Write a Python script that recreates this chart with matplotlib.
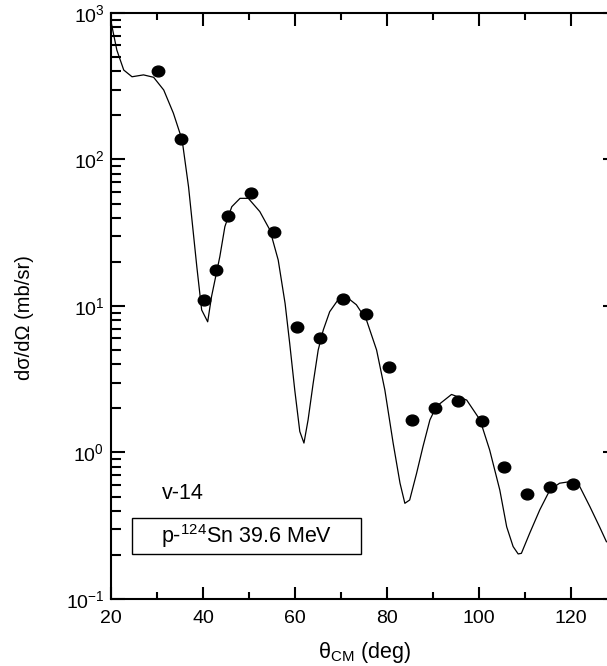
import numpy as np
import matplotlib
matplotlib.use("Agg")
import matplotlib.pyplot as plt
from matplotlib.patches import Rectangle
from matplotlib.markers import MarkerStyle
from matplotlib.transforms import Affine2D
from matplotlib.ticker import MultipleLocator, LogLocator, NullFormatter

plt.rcParams['font.family'] = ['Liberation Sans', 'DejaVu Sans']
plt.rcParams['mathtext.fontset'] = 'custom'
plt.rcParams['mathtext.rm'] = 'Liberation Sans'
plt.rcParams['mathtext.it'] = 'Liberation Sans:italic'
plt.rcParams['mathtext.bf'] = 'Liberation Sans:bold'

# measured cross sections (points)
theta_exp = [30.2, 35.1, 40.1, 42.8, 45.4, 50.3, 55.3, 60.4, 65.4, 70.4,
             75.5, 80.5, 85.5, 90.4, 95.5, 100.6, 105.5, 110.4, 115.4, 120.4]
xs_exp = [402, 138, 11.0, 17.6, 41.1, 59.3, 32.1, 7.22, 6.08, 11.1,
          8.82, 3.85, 1.67, 2.02, 2.25, 1.65, 0.792, 0.521, 0.586, 0.610]

# calculation (line)
theta_calc = [20.0, 21.2, 22.7, 24.5, 27.0, 29.2, 31.4, 33.5, 35.4, 36.8,
              38.6, 39.65, 40.96, 41.8, 43.6, 44.7, 46.2, 48.0, 49.8, 52.3,
              54.5, 56.3, 57.8, 58.8, 59.9, 61.0, 61.9, 62.8, 63.9, 65.0,
              66.1, 67.5, 69.3, 71.5, 73.3, 75.5, 77.7, 79.5, 81.3, 82.8,
              83.85, 84.9, 86.4, 87.8, 89.3, 90.7, 94.0, 97.3, 100.2, 102.3,
              104.5, 106.0, 107.4, 108.5, 109.2, 111.0, 113.2, 115.4, 117.5, 119.7,
              121.9, 124.1, 126.2, 127.7]
xs_calc = [851, 558, 408, 367, 378, 364, 298, 207, 136, 65,
           18.5, 9.4, 7.8, 11.6, 21.7, 34.8, 47.6, 54.3, 54.3, 44.1,
           33.0, 20.6, 10.4, 5.56, 2.67, 1.39, 1.16, 1.67, 2.96, 5.01,
           6.85, 9.14, 11.0, 11.3, 10.2, 8.02, 5.01, 2.67, 1.16, 0.617,
           0.450, 0.474, 0.721, 1.10, 1.67, 2.06, 2.49, 2.28, 1.67, 1.04,
           0.555, 0.311, 0.228, 0.203, 0.205, 0.281, 0.406, 0.555, 0.617, 0.632,
           0.585, 0.427, 0.311, 0.246]

fig = plt.figure(figsize=(6.07, 6.66), dpi=100)
ax = fig.add_axes([0.1834, 0.1006, 0.8331, 0.8799])

ax.plot(theta_calc, xs_calc, color='black', lw=0.9)
dot = MarkerStyle('o', transform=Affine2D().scale(1.15, 1.0))
ax.plot(theta_exp, xs_exp, ls='none', marker=dot, ms=7.8, color='black')

ax.set_yscale('log')
ax.set_xlim(20, 130)
ax.set_ylim(0.1, 1000)

ax.xaxis.set_major_locator(MultipleLocator(20))
ax.xaxis.set_minor_locator(MultipleLocator(10))
ax.yaxis.set_major_locator(LogLocator(base=10))
ax.yaxis.set_minor_locator(LogLocator(base=10, subs=np.arange(2, 10)))
ax.yaxis.set_minor_formatter(NullFormatter())

for s in ax.spines.values():
    s.set_linewidth(1.5)
ax.tick_params(which='both', direction='in', top=True, right=True, width=1.5, labelsize=14)
ax.tick_params(axis='x', which='major', length=9, pad=8)
ax.tick_params(axis='x', which='minor', length=5)
ax.tick_params(axis='y', which='major', length=10, pad=5)
ax.tick_params(axis='y', which='minor', length=7)

ax.set_xlabel('\u03b8$_{\\mathrm{CM}}$ (deg)', fontsize=15.5)
ax.xaxis.set_label_coords(0.5, -0.07)
ax.set_ylabel('d\u03c3/d\u03a9 (mb/sr)', fontsize=14.5)
ax.yaxis.set_label_coords(-0.153, 0.481)

ax.text(0.100, 0.171, 'v-14', transform=ax.transAxes, fontsize=15.5, va='baseline')
ax.add_patch(Rectangle((0.041, 0.077), 0.453, 0.061, transform=ax.transAxes,
                       fc='white', ec='black', lw=1.0, zorder=3))
ax.text(0.267, 0.1075, 'p-$^{124}$Sn 39.6 MeV', transform=ax.transAxes, fontsize=15.5,
        ha='center', va='center', zorder=4)

fig.savefig('out.png', dpi=100)
